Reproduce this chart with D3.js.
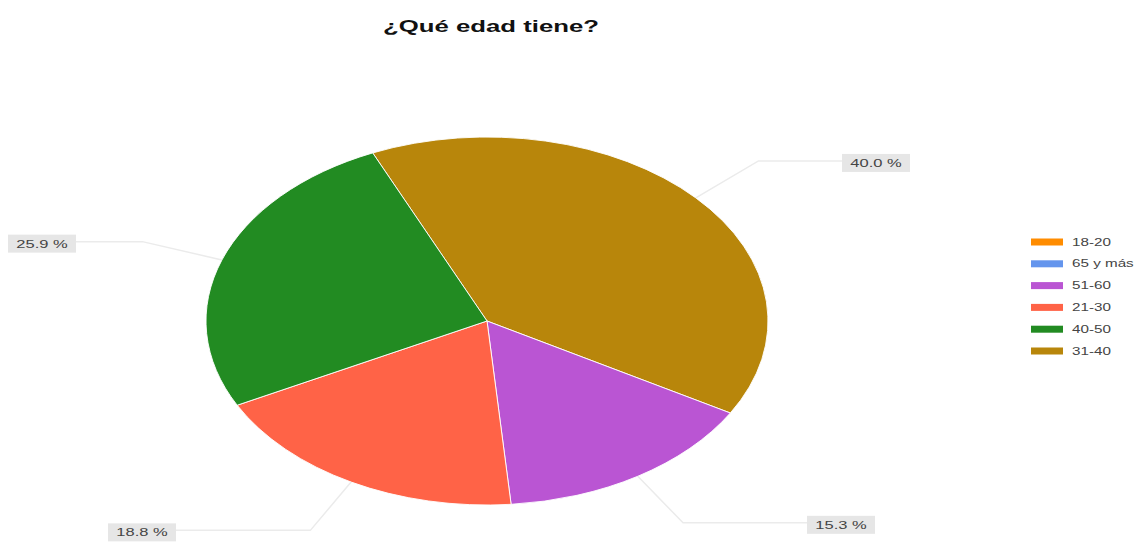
<!DOCTYPE html>
<html>
<head>
<meta charset="utf-8">
<script src="https://d3js.org/d3.v7.min.js"></script>
<style>
html,body{margin:0;padding:0;background:#fff;}
svg{display:block;font-family:"Liberation Sans",Arial,sans-serif;}
</style>
</head>
<body>
<svg id="chart" width="1147" height="544"></svg>
<script>
// ---- data ----
const title = "¿Qué edad tiene?";
const categories = ["18-20", "65 y más", "51-60", "21-30", "40-50", "31-40"];
const values = [0, 0, 15.3, 18.8, 25.9, 40.0];
const colors = ["#FF8C00", "#6495ED", "#BA55D3", "#FF6347", "#228B22", "#B8860B"];
// drawing order of the slices (clockwise)
const sliceOrder = ["31-40", "51-60", "21-30", "40-50"];

// ---- layout ----
const W = 1147, H = 544;
const cx = 487, cy = 321, rx = 281, ry = 184;
const stretch = 1.5;           // horizontal stretch of the text in the picture
const startDeg = -24;
const labelEnds = {"31-40": 842, "51-60": 807, "21-30": 176, "40-50": 76};

const svg = d3.select("#chart");

function stretchedText(g, x, y, txt, opts) {
  const t = g.append("g").attr("transform", `translate(${x},${y}) scale(${opts.sx || stretch},1)`)
    .append("text")
    .attr("text-anchor", opts.anchor || "start")
    .attr("dominant-baseline", opts.baseline || "auto")
    .attr("font-size", opts.size)
    .attr("font-weight", opts.weight || "normal")
    .attr("fill", opts.fill || "#333")
    .text(txt);
  return t;
}

// title
stretchedText(svg, 491, 32, title, {anchor: "middle", size: 16.5, weight: "bold", fill: "#111", sx: 1.56});

// pie
const data = sliceOrder.map(c => ({cat: c, value: values[categories.indexOf(c)], color: colors[categories.indexOf(c)]}));
const pie = d3.pie().sort(null).value(d => d.value)
  .startAngle(startDeg * Math.PI / 180)
  .endAngle((startDeg + 360) * Math.PI / 180);
const arcs = pie(data);
const arc = d3.arc().innerRadius(0).outerRadius(ry);

const pieG = svg.append("g").attr("transform", `translate(${cx},${cy}) scale(${rx / ry},1)`);
pieG.selectAll("path").data(arcs).join("path")
  .attr("d", arc)
  .attr("fill", d => d.data.color)
  .attr("stroke", "#fff")
  .attr("stroke-width", 0.9)
  .attr("vector-effect", "non-scaling-stroke");

// labels with leader lines
const labG = svg.append("g");
arcs.forEach(a => {
  const mid = (a.startAngle + a.endAngle) / 2;
  const sx = cx + rx * Math.sin(mid), sy = cy - ry * Math.cos(mid);
  const ex = cx + 1.3 * rx * Math.sin(mid), ey = cy - 1.3 * ry * Math.cos(mid);
  const right = Math.sin(mid) > 0;
  const lx = labelEnds[a.data.cat];
  labG.append("path")
    .attr("d", d3.line()([[sx, sy], [ex, ey], [lx, ey]]))
    .attr("fill", "none").attr("stroke", "#ebebeb").attr("stroke-width", 1.5);
  const bw = 68, bh = 18;
  const bx = right ? lx : lx - bw;
  labG.append("rect").attr("x", bx).attr("y", ey - bh / 2 + 2).attr("width", bw).attr("height", bh)
    .attr("fill", "#e6e6e6");
  stretchedText(labG, bx + bw / 2, ey + 2, a.data.value.toFixed(1) + " %",
    {anchor: "middle", baseline: "central", size: 11, fill: "#444"});
});

// legend
const legG = svg.append("g");
categories.forEach((c, i) => {
  const y = 242 + i * 21.8;
  legG.append("rect").attr("x", 1031).attr("y", y - 3.5).attr("width", 32).attr("height", 7)
    .attr("fill", colors[i]);
  stretchedText(legG, 1072, y, c, {baseline: "central", size: 10.5, fill: "#444", sx: 1.45});
});
</script>
</body>
</html>
